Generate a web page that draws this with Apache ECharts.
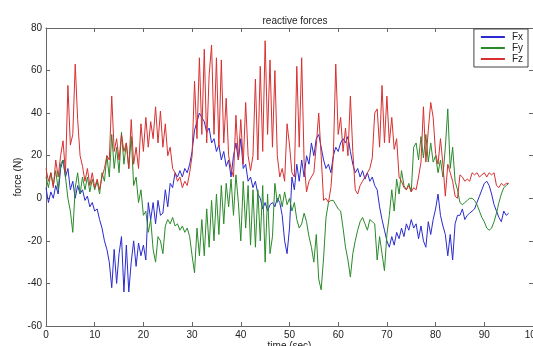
<!DOCTYPE html>
<html>
<head>
<meta charset="utf-8">
<script src="https://cdn.jsdelivr.net/npm/echarts@6/dist/echarts.min.js"></script>
<style>
  html, body { margin: 0; padding: 0; background: #fff; }
  #main { width: 533px; height: 346px; }
</style>
</head>
<body>
<div id="main"></div>
<script>
// 采样间隔 0.5 s，从 0 到 95 s
var step = 0.5;

// Fx（蓝）
var fx = [
  5, -2, 3, 0, 6, 2, 14, 18, 10, 14, 4, 8, 0, 6, 2, 4, -1, 1, -4, -2,
  -6, -5, -10, -14, -20, -24, -30, -42, -24, -40, -26, -18, -44, -22, -44, -30, -20, -32, -21, -27,
  -22, -29, -2, -10, -2, -12, -1, -8, -7, 4, -4, 7, 5, 12, 10, 13, 10, 14, 12, 16,
  22, 32, 36, 40, 38, 36, 31, 33, 26, 28, 22, 25, 18, 22, 15, 18, 10, 20, 26, 18,
  28, 14, 16, 8, 10, 5, 8, 2, 0, -5, -2, -6, -3, -2, -4, 0, -2, -8, -20, -26,
  -14, 10, 4, 16, 8, 18, 10, 20, 16, 26, 20, 28, 30, 24, 18, 14, 16, 12, 20, 24,
  22, 26, 28, 26, 29, 22, 16, 12, 14, 10, 13, 9, 12, 8, 10, 6, 4, -4, -10, -15,
  -20, -23, -18, -22, -16, -19, -14, -18, -12, -15, -10, -14, -12, -19, -13, -20, -23, -11, -17, -10,
  -5, 2, -8, -13, -17, -27, -17, -29, -12, -8, -8, -5, -10, -8, -7, -6, -5, -2, 1, 4,
  7, 8, 6, 2, -3, -6, -9, -11, -6, -8, -7
];

// Fy（绿）
var fy = [
  10, 5, 12, 6, 13, 4, 16, 18, 10, 0, -6, -16, 5, 12, 2, 10, 4, 10, 3, 9,
  4, 8, 2, 12, 8, 20, 10, 30, 14, 24, 12, 31, 16, 26, 14, 29, 6, 10, -2, 4,
  -8, -6, -16, -10, -24, -30, -18, -20, -26, -13, -10, -12, -9, -13, -12, -15, -13, -16, -14, -18,
  -27, -35, -14, -27, -10, -27, -5, -23, -1, -20, 2, -17, 6, -12, 7, -4, 9, -8, 11, -2,
  -20, 8, -14, 6, -22, 4, -23, 4, -20, 6, -30, 2, -26, -18, 7, -2, 2, -4, 3, -3,
  0, -6, -2, -10, -14, -12, -7, -11, -18, -23, -30, -17, -38, -43, -28, -9, -2, -1, -1, -3,
  -5, -6, -14, -23, -29, -37, -26, -20, -15, -11, -9, -12, -15, -10, -11, -12, -29, -18, -26, -34,
  -17, -8, 4, -6, 9, 2, 13, 6, 4, 7, 3, 24, 26, 18, 29, 19, 30, 17, 26, 17,
  20, 12, 18, 10, 24, 42, 14, 24, 8, 4, -2, -3, -2, -1, 0, 0, -1, -3, -6, -9,
  -11, -14, -15, -14, -11, -7, -2, 2, 5, 6, 7
];

// Fz（红）
var fz = [
  14, 8, 12, 5, 18, 10, 20, 27, 12, 53, 25, 30, 63, 37, 20, 15, 8, 14, 6, 12,
  5, 9, 4, 10, 14, 20, 18, 48, 22, 28, 18, 30, 22, 26, 14, 37, 16, 24, 14, 35,
  22, 38, 24, 36, 28, 43, 26, 41, 24, 35, 20, 24, 14, 12, 8, 10, 5, 8, 6, 12,
  20, 55, 28, 66, 30, 70, 26, 58, 72, 30, 66, 24, 65, 26, 47, 20, 14, 10, 39, 18,
  37, 16, 45, 20, 13, 20, 56, 18, 62, 22, 74, 30, 65, 24, 60, 20, 10, 14, 8, 35,
  25, 12, 10, 62, 24, 66, 17, 3, 8, 10, 12, 25, 40, 20, -1, 0, -2, 5, 20, 63,
  30, 38, 22, 33, 20, 48, 22, 4, 2, 6, 8, 10, 12, 14, 19, 40, 42, 24, 53, 26,
  48, 26, 38, 23, 28, 10, 8, 5, 4, 6, 3, 5, 4, 10, 17, 43, 17, 32, 45, 38,
  21, 16, 28, 16, 1, 16, 12, 8, 1, 0, 11, 10, 8, 9, 8, 12, 11, 12, 10, 11,
  12, 10, 12, 11, 12, 6, 5, 7, 6, 7, 7
];

var xTicks = { min: 0, max: 100, interval: 10 };
var yTicks = { min: -60, max: 80, interval: 20 };

function toPairs(arr) {
  var out = [];
  for (var i = 0; i < arr.length; i++) {
    out.push([i * step, arr[i]]);
  }
  return out;
}

var chart = echarts.init(document.getElementById("main"), null, { renderer: "canvas" });

var labelFont = { fontFamily: "Liberation Sans", fontSize: 10, color: "#222" };
var axisColor = "#666";

// 四周的框线和朝内的刻度
function boxAxis(extra) {
  return Object.assign(
    {
      type: "value",
      axisLine: { show: true, onZero: false, lineStyle: { color: axisColor } },
      axisTick: { show: true, inside: true, length: 4, lineStyle: { color: axisColor } },
      splitLine: { show: false },
    },
    extra
  );
}

var option = {
  backgroundColor: "#fff",
  animation: false,
  title: {
    text: "reactive forces",
    left: 290,
    textAlign: "center",
    top: 11,
    textStyle: { fontFamily: "Liberation Sans", fontSize: 10, fontWeight: "normal", color: "#222" },
  },
  legend: {
    orient: "vertical",
    right: 5,
    top: 29,
    padding: [3, 5, 3, 6],
    itemGap: 1,
    itemWidth: 24,
    itemHeight: 2,
    borderColor: "#444",
    borderWidth: 1,
    backgroundColor: "#fff",
    textStyle: { fontFamily: "Liberation Sans", fontSize: 10, color: "#222", padding: [0, 0, 0, 2] },
    data: ["Fx", "Fy", "Fz"],
  },
  grid: {
    left: 46,
    right: 0,
    top: 28,
    bottom: 20,
    outerBoundsMode: "none",
    containLabel: false,
  },
  xAxis: [
    boxAxis({
      min: xTicks.min,
      max: xTicks.max,
      interval: xTicks.interval,
      name: "time (sec)",
      nameLocation: "middle",
      nameGap: 15,
      nameMoveOverlap: false,
      nameTextStyle: labelFont,
      axisLabel: Object.assign({ margin: 4 }, labelFont),
    }),
    boxAxis({
      position: "top",
      min: xTicks.min,
      max: xTicks.max,
      interval: xTicks.interval,
      axisLabel: { show: false },
    }),
  ],
  yAxis: [
    boxAxis({
      min: yTicks.min,
      max: yTicks.max,
      interval: yTicks.interval,
      name: "force (N)",
      nameLocation: "middle",
      nameGap: 23,
      nameMoveOverlap: false,
      nameTextStyle: labelFont,
      axisLabel: Object.assign({ margin: 4 }, labelFont),
    }),
    boxAxis({
      position: "right",
      min: yTicks.min,
      max: yTicks.max,
      interval: yTicks.interval,
      axisLabel: { show: false },
    }),
  ],
  series: [
    {
      name: "Fx",
      type: "line",
      symbol: "none",
      data: toPairs(fx),
      lineStyle: { color: "#2a2ad0", width: 1 },
      itemStyle: { color: "#2a2ad0" },
    },
    {
      name: "Fy",
      type: "line",
      symbol: "none",
      data: toPairs(fy),
      lineStyle: { color: "#2a8a2a", width: 1 },
      itemStyle: { color: "#2a8a2a" },
    },
    {
      name: "Fz",
      type: "line",
      symbol: "none",
      data: toPairs(fz),
      lineStyle: { color: "#d83030", width: 1 },
      itemStyle: { color: "#d83030" },
    },
  ],
};

chart.setOption(option);
</script>
</body>
</html>
